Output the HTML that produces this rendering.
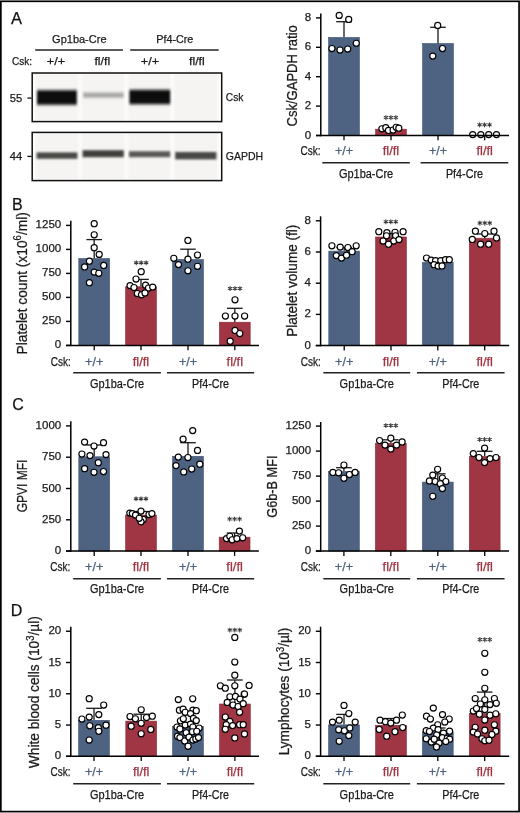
<!DOCTYPE html>
<html><head><meta charset="utf-8"><title>Figure</title><style>html,body{margin:0;padding:0;background:#fff;}svg{display:block;will-change:transform;}text{font-family:"Liberation Sans", sans-serif;stroke:currentColor;stroke-width:0.25px;}</style></head><body>
<svg width="520" height="813" viewBox="0 0 520 813" font-family='"Liberation Sans", sans-serif'>
<defs><filter id="bl" x="-10%" y="-60%" width="120%" height="220%"><feGaussianBlur stdDeviation="1.1 1.5"/></filter><filter id="bl2" x="-10%" y="-60%" width="120%" height="220%"><feGaussianBlur stdDeviation="1.0 1.2"/></filter><filter id="bl3" x="-10%" y="-10%" width="120%" height="120%"><feGaussianBlur stdDeviation="1.0 0.01"/></filter></defs>
<rect x="0" y="0" width="520" height="813" fill="#fff"/>
<rect x="0.85" y="1.3" width="518.2" height="810.3" fill="none" stroke="#000" stroke-width="1.7"/>
<text x="11.00" y="23.70" font-size="16.5" text-anchor="start" fill="#111" color="#111">A</text>
<text x="12.00" y="209.60" font-size="16" text-anchor="start" fill="#111" color="#111">B</text>
<text x="12.30" y="410.40" font-size="16" text-anchor="start" fill="#111" color="#111">C</text>
<text x="10.80" y="615.60" font-size="16" text-anchor="start" fill="#111" color="#111">D</text>
<text x="79.30" y="42.70" font-size="11.5" text-anchor="middle" fill="#1a1a1a" color="#1a1a1a" textLength="54.4" lengthAdjust="spacingAndGlyphs">Gp1ba-Cre</text>
<text x="174.80" y="42.70" font-size="11.5" text-anchor="middle" fill="#1a1a1a" color="#1a1a1a" textLength="37.1" lengthAdjust="spacingAndGlyphs">Pf4-Cre</text>
<line x1="35.20" y1="50.00" x2="122.90" y2="50.00" stroke="#222" stroke-width="1.4"/>
<line x1="130.20" y1="50.00" x2="218.70" y2="50.00" stroke="#222" stroke-width="1.4"/>
<text x="12.00" y="64.70" font-size="11.5" text-anchor="start" fill="#1a1a1a" color="#1a1a1a" textLength="20" lengthAdjust="spacingAndGlyphs">Csk:</text>
<text x="55.90" y="64.70" font-size="11.5" text-anchor="middle" fill="#1a1a1a" color="#1a1a1a" textLength="18.3" lengthAdjust="spacingAndGlyphs">+/+</text>
<text x="150.00" y="64.70" font-size="11.5" text-anchor="middle" fill="#1a1a1a" color="#1a1a1a" textLength="18.3" lengthAdjust="spacingAndGlyphs">+/+</text>
<text x="102.30" y="64.70" font-size="11.5" text-anchor="middle" fill="#1a1a1a" color="#1a1a1a" textLength="15.8" lengthAdjust="spacingAndGlyphs">fl/fl</text>
<text x="196.90" y="64.70" font-size="11.5" text-anchor="middle" fill="#1a1a1a" color="#1a1a1a" textLength="15.8" lengthAdjust="spacingAndGlyphs">fl/fl</text>
<rect x="32.2" y="73.0" width="189.5" height="48.599999999999994" fill="#fcfcfb"/>
<rect x="35.6" y="73.0" width="42.80" height="48.599999999999994" fill="#f5f4f3" filter="url(#bl3)"/>
<rect x="81.6" y="73.0" width="42.80" height="48.599999999999994" fill="#f5f4f3" filter="url(#bl3)"/>
<rect x="128.0" y="73.0" width="42.60" height="48.599999999999994" fill="#f5f4f3" filter="url(#bl3)"/>
<rect x="174.2" y="73.0" width="43.20" height="48.599999999999994" fill="#f5f4f3" filter="url(#bl3)"/>
<rect x="37.0" y="90.2" width="39.80" height="14.60" fill="#0c0c0c" filter="url(#bl)"/>
<rect x="83.2" y="92.6" width="40.40" height="5.00" fill="#a4a4a4" filter="url(#bl)"/>
<rect x="129.4" y="89.8" width="40.80" height="14.40" fill="#0c0c0c" filter="url(#bl)"/>
<rect x="32.2" y="73.0" width="189.50" height="48.60" fill="none" stroke="#111" stroke-width="1.5"/>
<rect x="32.2" y="132.4" width="189.5" height="48.19999999999999" fill="#fcfcfb"/>
<rect x="35.6" y="132.4" width="42.80" height="48.19999999999999" fill="#f5f4f3" filter="url(#bl3)"/>
<rect x="81.6" y="132.4" width="42.80" height="48.19999999999999" fill="#f5f4f3" filter="url(#bl3)"/>
<rect x="128.0" y="132.4" width="42.60" height="48.19999999999999" fill="#f5f4f3" filter="url(#bl3)"/>
<rect x="174.2" y="132.4" width="43.20" height="48.19999999999999" fill="#f5f4f3" filter="url(#bl3)"/>
<rect x="36.6" y="152.4" width="40.80" height="6.40" fill="#4a4946" filter="url(#bl2)"/>
<rect x="82.6" y="150.2" width="41.20" height="7.00" fill="#42413e" filter="url(#bl2)"/>
<rect x="129.0" y="151.2" width="41.20" height="6.00" fill="#5a5956" filter="url(#bl2)"/>
<rect x="175.2" y="152.0" width="41.20" height="7.40" fill="#4a4946" filter="url(#bl2)"/>
<rect x="32.2" y="132.4" width="189.50" height="48.20" fill="none" stroke="#111" stroke-width="1.5"/>
<text x="22.20" y="101.50" font-size="11.2" text-anchor="end" fill="#1a1a1a" color="#1a1a1a">55</text>
<line x1="27.40" y1="98.10" x2="31.50" y2="98.10" stroke="#111" stroke-width="1.3"/>
<text x="22.20" y="159.80" font-size="11.2" text-anchor="end" fill="#1a1a1a" color="#1a1a1a">44</text>
<line x1="27.40" y1="156.40" x2="31.50" y2="156.40" stroke="#111" stroke-width="1.3"/>
<text x="225.80" y="101.40" font-size="11.5" text-anchor="start" fill="#1a1a1a" color="#1a1a1a" textLength="17.6" lengthAdjust="spacingAndGlyphs">Csk</text>
<text x="225.80" y="160.00" font-size="11.5" text-anchor="start" fill="#1a1a1a" color="#1a1a1a" textLength="37.3" lengthAdjust="spacingAndGlyphs">GAPDH</text>
<rect x="328.60" y="37.40" width="30.80" height="98.10" fill="#4e6382" stroke="#3c5073" stroke-width="0.6"/>
<rect x="375.60" y="129.20" width="30.80" height="6.30" fill="#a03543" stroke="#8a2634" stroke-width="0.6"/>
<rect x="422.60" y="43.50" width="30.80" height="92.00" fill="#4e6382" stroke="#3c5073" stroke-width="0.6"/>
<line x1="344.00" y1="37.10" x2="344.00" y2="21.70" stroke="#1a1a1a" stroke-width="1.3"/>
<line x1="336.20" y1="21.70" x2="351.80" y2="21.70" stroke="#1a1a1a" stroke-width="1.3"/>
<line x1="438.00" y1="43.20" x2="438.00" y2="27.30" stroke="#1a1a1a" stroke-width="1.3"/>
<line x1="430.20" y1="27.30" x2="445.80" y2="27.30" stroke="#1a1a1a" stroke-width="1.3"/>
<circle cx="339.20" cy="15.40" r="3.05" fill="#fff" stroke="#000" stroke-width="1.15"/>
<circle cx="348.70" cy="19.40" r="3.05" fill="#fff" stroke="#000" stroke-width="1.15"/>
<circle cx="331.90" cy="48.50" r="3.05" fill="#fff" stroke="#000" stroke-width="1.15"/>
<circle cx="340.00" cy="50.00" r="3.05" fill="#fff" stroke="#000" stroke-width="1.15"/>
<circle cx="347.70" cy="49.00" r="3.05" fill="#fff" stroke="#000" stroke-width="1.15"/>
<circle cx="356.30" cy="43.30" r="3.05" fill="#fff" stroke="#000" stroke-width="1.15"/>
<circle cx="381.90" cy="128.80" r="3.05" fill="#fff" stroke="#000" stroke-width="1.15"/>
<circle cx="385.80" cy="127.70" r="3.05" fill="#fff" stroke="#000" stroke-width="1.15"/>
<circle cx="388.50" cy="130.40" r="3.05" fill="#fff" stroke="#000" stroke-width="1.15"/>
<circle cx="393.10" cy="130.00" r="3.05" fill="#fff" stroke="#000" stroke-width="1.15"/>
<circle cx="396.20" cy="127.30" r="3.05" fill="#fff" stroke="#000" stroke-width="1.15"/>
<circle cx="398.80" cy="128.20" r="3.05" fill="#fff" stroke="#000" stroke-width="1.15"/>
<circle cx="437.70" cy="25.40" r="3.05" fill="#fff" stroke="#000" stroke-width="1.15"/>
<circle cx="442.50" cy="48.50" r="3.05" fill="#fff" stroke="#000" stroke-width="1.15"/>
<circle cx="432.80" cy="56.10" r="3.05" fill="#fff" stroke="#000" stroke-width="1.15"/>
<circle cx="472.70" cy="134.60" r="3.05" fill="#fff" stroke="#000" stroke-width="1.15"/>
<circle cx="480.80" cy="134.60" r="3.05" fill="#fff" stroke="#000" stroke-width="1.15"/>
<circle cx="488.70" cy="134.60" r="3.05" fill="#fff" stroke="#000" stroke-width="1.15"/>
<circle cx="496.50" cy="134.60" r="3.05" fill="#fff" stroke="#000" stroke-width="1.15"/>
<line x1="320.80" y1="13.50" x2="320.80" y2="136.20" stroke="#000" stroke-width="1.5"/>
<line x1="316.00" y1="135.50" x2="509.00" y2="135.50" stroke="#000" stroke-width="1.5"/>
<line x1="316.00" y1="135.50" x2="320.80" y2="135.50" stroke="#000" stroke-width="1.4"/>
<text x="311.20" y="138.50" font-size="11.5" text-anchor="end" fill="#1a1a1a" color="#1a1a1a">0</text>
<line x1="316.00" y1="106.10" x2="320.80" y2="106.10" stroke="#000" stroke-width="1.4"/>
<text x="311.20" y="109.10" font-size="11.5" text-anchor="end" fill="#1a1a1a" color="#1a1a1a">2</text>
<line x1="316.00" y1="76.70" x2="320.80" y2="76.70" stroke="#000" stroke-width="1.4"/>
<text x="311.20" y="79.70" font-size="11.5" text-anchor="end" fill="#1a1a1a" color="#1a1a1a">4</text>
<line x1="316.00" y1="47.30" x2="320.80" y2="47.30" stroke="#000" stroke-width="1.4"/>
<text x="311.20" y="50.30" font-size="11.5" text-anchor="end" fill="#1a1a1a" color="#1a1a1a">6</text>
<line x1="316.00" y1="17.90" x2="320.80" y2="17.90" stroke="#000" stroke-width="1.4"/>
<text x="311.20" y="20.90" font-size="11.5" text-anchor="end" fill="#1a1a1a" color="#1a1a1a">8</text>
<line x1="344.00" y1="135.50" x2="344.00" y2="140.30" stroke="#000" stroke-width="1.3"/>
<line x1="391.00" y1="135.50" x2="391.00" y2="140.30" stroke="#000" stroke-width="1.3"/>
<line x1="438.00" y1="135.50" x2="438.00" y2="140.30" stroke="#000" stroke-width="1.3"/>
<line x1="484.70" y1="135.50" x2="484.70" y2="140.30" stroke="#000" stroke-width="1.3"/>
<path d="M385.95 115.55L385.95 119.65M384.17 116.57L387.73 118.62M387.73 116.57L384.17 118.62M390.90 115.55L390.90 119.65M389.12 116.57L392.68 118.62M392.68 116.57L389.12 118.62M395.85 115.55L395.85 119.65M394.07 116.57L397.63 118.62M397.63 116.57L394.07 118.62" stroke="#3a3a3a" stroke-width="1.05" stroke-linecap="round" fill="none"/>
<path d="M479.65 122.75L479.65 126.85M477.87 123.77L481.43 125.83M481.43 123.77L477.87 125.83M484.60 122.75L484.60 126.85M482.82 123.77L486.38 125.83M486.38 123.77L482.82 125.83M489.55 122.75L489.55 126.85M487.77 123.77L491.33 125.83M491.33 123.77L487.77 125.83" stroke="#3a3a3a" stroke-width="1.05" stroke-linecap="round" fill="none"/>
<text x="300.50" y="155.00" font-size="12" text-anchor="start" fill="#1a1a1a" color="#1a1a1a" textLength="20" lengthAdjust="spacingAndGlyphs">Csk:</text>
<text x="344.00" y="155.00" font-size="12" text-anchor="middle" fill="#4e6382" color="#4e6382" textLength="18.2" lengthAdjust="spacingAndGlyphs">+/+</text>
<text x="391.00" y="155.00" font-size="12" text-anchor="middle" fill="#a03543" color="#a03543" textLength="16.5" lengthAdjust="spacingAndGlyphs">fl/fl</text>
<text x="438.00" y="155.00" font-size="12" text-anchor="middle" fill="#4e6382" color="#4e6382" textLength="18.2" lengthAdjust="spacingAndGlyphs">+/+</text>
<text x="484.70" y="155.00" font-size="12" text-anchor="middle" fill="#a03543" color="#a03543" textLength="16.5" lengthAdjust="spacingAndGlyphs">fl/fl</text>
<line x1="322.30" y1="162.70" x2="409.80" y2="162.70" stroke="#222" stroke-width="1.4"/>
<text x="366.05" y="177.70" font-size="12" text-anchor="middle" fill="#1a1a1a" color="#1a1a1a" textLength="54.3" lengthAdjust="spacingAndGlyphs">Gp1ba-Cre</text>
<line x1="420.60" y1="162.70" x2="508.30" y2="162.70" stroke="#222" stroke-width="1.4"/>
<text x="464.45" y="177.70" font-size="12" text-anchor="middle" fill="#1a1a1a" color="#1a1a1a" textLength="37" lengthAdjust="spacingAndGlyphs">Pf4-Cre</text>
<text transform="translate(296.60,75.80) rotate(-90)" font-size="14.5" text-anchor="middle" fill="#1a1a1a" color="#1a1a1a" textLength="101.3" lengthAdjust="spacingAndGlyphs">Csk/GAPDH ratio</text>
<rect x="78.80" y="258.50" width="30.80" height="86.90" fill="#4e6382" stroke="#3c5073" stroke-width="0.6"/>
<rect x="125.60" y="286.80" width="30.80" height="58.60" fill="#a03543" stroke="#8a2634" stroke-width="0.6"/>
<rect x="172.60" y="259.50" width="30.80" height="85.90" fill="#4e6382" stroke="#3c5073" stroke-width="0.6"/>
<rect x="219.40" y="322.20" width="30.80" height="23.20" fill="#a03543" stroke="#8a2634" stroke-width="0.6"/>
<line x1="94.20" y1="258.20" x2="94.20" y2="239.60" stroke="#1a1a1a" stroke-width="1.3"/>
<line x1="86.40" y1="239.60" x2="102.00" y2="239.60" stroke="#1a1a1a" stroke-width="1.3"/>
<line x1="141.00" y1="286.50" x2="141.00" y2="279.40" stroke="#1a1a1a" stroke-width="1.3"/>
<line x1="133.20" y1="279.40" x2="148.80" y2="279.40" stroke="#1a1a1a" stroke-width="1.3"/>
<line x1="188.00" y1="259.20" x2="188.00" y2="249.20" stroke="#1a1a1a" stroke-width="1.3"/>
<line x1="180.20" y1="249.20" x2="195.80" y2="249.20" stroke="#1a1a1a" stroke-width="1.3"/>
<line x1="234.80" y1="321.90" x2="234.80" y2="308.30" stroke="#1a1a1a" stroke-width="1.3"/>
<line x1="227.00" y1="308.30" x2="242.60" y2="308.30" stroke="#1a1a1a" stroke-width="1.3"/>
<circle cx="94.20" cy="223.70" r="3.05" fill="#fff" stroke="#000" stroke-width="1.15"/>
<circle cx="94.20" cy="234.80" r="3.05" fill="#fff" stroke="#000" stroke-width="1.15"/>
<circle cx="94.20" cy="247.70" r="3.05" fill="#fff" stroke="#000" stroke-width="1.15"/>
<circle cx="99.20" cy="254.40" r="3.05" fill="#fff" stroke="#000" stroke-width="1.15"/>
<circle cx="89.40" cy="261.20" r="3.05" fill="#fff" stroke="#000" stroke-width="1.15"/>
<circle cx="84.60" cy="266.90" r="3.05" fill="#fff" stroke="#000" stroke-width="1.15"/>
<circle cx="103.70" cy="265.40" r="3.05" fill="#fff" stroke="#000" stroke-width="1.15"/>
<circle cx="94.20" cy="272.10" r="3.05" fill="#fff" stroke="#000" stroke-width="1.15"/>
<circle cx="98.80" cy="273.30" r="3.05" fill="#fff" stroke="#000" stroke-width="1.15"/>
<circle cx="89.40" cy="282.70" r="3.05" fill="#fff" stroke="#000" stroke-width="1.15"/>
<circle cx="141.20" cy="271.70" r="3.05" fill="#fff" stroke="#000" stroke-width="1.15"/>
<circle cx="136.00" cy="279.00" r="3.05" fill="#fff" stroke="#000" stroke-width="1.15"/>
<circle cx="130.00" cy="285.60" r="3.05" fill="#fff" stroke="#000" stroke-width="1.15"/>
<circle cx="134.00" cy="287.50" r="3.05" fill="#fff" stroke="#000" stroke-width="1.15"/>
<circle cx="145.60" cy="285.20" r="3.05" fill="#fff" stroke="#000" stroke-width="1.15"/>
<circle cx="148.50" cy="288.00" r="3.05" fill="#fff" stroke="#000" stroke-width="1.15"/>
<circle cx="152.70" cy="287.10" r="3.05" fill="#fff" stroke="#000" stroke-width="1.15"/>
<circle cx="137.30" cy="293.50" r="3.05" fill="#fff" stroke="#000" stroke-width="1.15"/>
<circle cx="141.50" cy="294.80" r="3.05" fill="#fff" stroke="#000" stroke-width="1.15"/>
<circle cx="145.00" cy="292.90" r="3.05" fill="#fff" stroke="#000" stroke-width="1.15"/>
<circle cx="187.90" cy="240.40" r="3.05" fill="#fff" stroke="#000" stroke-width="1.15"/>
<circle cx="173.80" cy="258.30" r="3.05" fill="#fff" stroke="#000" stroke-width="1.15"/>
<circle cx="187.90" cy="259.20" r="3.05" fill="#fff" stroke="#000" stroke-width="1.15"/>
<circle cx="197.50" cy="255.00" r="3.05" fill="#fff" stroke="#000" stroke-width="1.15"/>
<circle cx="178.50" cy="264.60" r="3.05" fill="#fff" stroke="#000" stroke-width="1.15"/>
<circle cx="197.50" cy="266.30" r="3.05" fill="#fff" stroke="#000" stroke-width="1.15"/>
<circle cx="187.90" cy="270.80" r="3.05" fill="#fff" stroke="#000" stroke-width="1.15"/>
<circle cx="235.00" cy="299.80" r="3.05" fill="#fff" stroke="#000" stroke-width="1.15"/>
<circle cx="225.40" cy="316.00" r="3.05" fill="#fff" stroke="#000" stroke-width="1.15"/>
<circle cx="235.00" cy="316.00" r="3.05" fill="#fff" stroke="#000" stroke-width="1.15"/>
<circle cx="244.60" cy="316.00" r="3.05" fill="#fff" stroke="#000" stroke-width="1.15"/>
<circle cx="235.00" cy="330.40" r="3.05" fill="#fff" stroke="#000" stroke-width="1.15"/>
<circle cx="239.80" cy="333.50" r="3.05" fill="#fff" stroke="#000" stroke-width="1.15"/>
<circle cx="230.20" cy="341.20" r="3.05" fill="#fff" stroke="#000" stroke-width="1.15"/>
<line x1="70.80" y1="220.80" x2="70.80" y2="346.10" stroke="#000" stroke-width="1.5"/>
<line x1="66.00" y1="345.40" x2="259.00" y2="345.40" stroke="#000" stroke-width="1.5"/>
<line x1="66.00" y1="345.40" x2="70.80" y2="345.40" stroke="#000" stroke-width="1.4"/>
<text x="61.20" y="348.40" font-size="11.5" text-anchor="end" fill="#1a1a1a" color="#1a1a1a">0</text>
<line x1="66.00" y1="321.40" x2="70.80" y2="321.40" stroke="#000" stroke-width="1.4"/>
<text x="61.20" y="324.40" font-size="11.5" text-anchor="end" fill="#1a1a1a" color="#1a1a1a">250</text>
<line x1="66.00" y1="297.40" x2="70.80" y2="297.40" stroke="#000" stroke-width="1.4"/>
<text x="61.20" y="300.40" font-size="11.5" text-anchor="end" fill="#1a1a1a" color="#1a1a1a">500</text>
<line x1="66.00" y1="273.40" x2="70.80" y2="273.40" stroke="#000" stroke-width="1.4"/>
<text x="61.20" y="276.40" font-size="11.5" text-anchor="end" fill="#1a1a1a" color="#1a1a1a">750</text>
<line x1="66.00" y1="249.40" x2="70.80" y2="249.40" stroke="#000" stroke-width="1.4"/>
<text x="61.20" y="252.40" font-size="11.5" text-anchor="end" fill="#1a1a1a" color="#1a1a1a">1000</text>
<line x1="66.00" y1="225.40" x2="70.80" y2="225.40" stroke="#000" stroke-width="1.4"/>
<text x="61.20" y="228.40" font-size="11.5" text-anchor="end" fill="#1a1a1a" color="#1a1a1a">1250</text>
<line x1="94.20" y1="345.40" x2="94.20" y2="350.20" stroke="#000" stroke-width="1.3"/>
<line x1="141.00" y1="345.40" x2="141.00" y2="350.20" stroke="#000" stroke-width="1.3"/>
<line x1="188.00" y1="345.40" x2="188.00" y2="350.20" stroke="#000" stroke-width="1.3"/>
<line x1="234.80" y1="345.40" x2="234.80" y2="350.20" stroke="#000" stroke-width="1.3"/>
<path d="M136.25 260.65L136.25 264.75M134.47 261.68L138.03 263.72M138.03 261.68L134.47 263.72M141.20 260.65L141.20 264.75M139.42 261.68L142.98 263.72M142.98 261.68L139.42 263.72M146.15 260.65L146.15 264.75M144.37 261.68L147.93 263.72M147.93 261.68L144.37 263.72" stroke="#3a3a3a" stroke-width="1.05" stroke-linecap="round" fill="none"/>
<path d="M230.05 286.45L230.05 290.55M228.27 287.48L231.83 289.52M231.83 287.48L228.27 289.52M235.00 286.45L235.00 290.55M233.22 287.48L236.78 289.52M236.78 287.48L233.22 289.52M239.95 286.45L239.95 290.55M238.17 287.48L241.73 289.52M241.73 287.48L238.17 289.52" stroke="#3a3a3a" stroke-width="1.05" stroke-linecap="round" fill="none"/>
<text x="50.80" y="365.60" font-size="12" text-anchor="start" fill="#1a1a1a" color="#1a1a1a" textLength="20" lengthAdjust="spacingAndGlyphs">Csk:</text>
<text x="94.20" y="365.60" font-size="12" text-anchor="middle" fill="#4e6382" color="#4e6382" textLength="18.2" lengthAdjust="spacingAndGlyphs">+/+</text>
<text x="141.00" y="365.60" font-size="12" text-anchor="middle" fill="#a03543" color="#a03543" textLength="16.5" lengthAdjust="spacingAndGlyphs">fl/fl</text>
<text x="188.00" y="365.60" font-size="12" text-anchor="middle" fill="#4e6382" color="#4e6382" textLength="18.2" lengthAdjust="spacingAndGlyphs">+/+</text>
<text x="234.80" y="365.60" font-size="12" text-anchor="middle" fill="#a03543" color="#a03543" textLength="16.5" lengthAdjust="spacingAndGlyphs">fl/fl</text>
<line x1="73.20" y1="372.70" x2="160.90" y2="372.70" stroke="#222" stroke-width="1.4"/>
<text x="117.05" y="387.60" font-size="12" text-anchor="middle" fill="#1a1a1a" color="#1a1a1a" textLength="54.3" lengthAdjust="spacingAndGlyphs">Gp1ba-Cre</text>
<line x1="166.90" y1="372.70" x2="254.20" y2="372.70" stroke="#222" stroke-width="1.4"/>
<text x="210.55" y="387.60" font-size="12" text-anchor="middle" fill="#1a1a1a" color="#1a1a1a" textLength="37" lengthAdjust="spacingAndGlyphs">Pf4-Cre</text>
<text transform="translate(26.50,283.30) rotate(-90)" font-size="14.5" text-anchor="middle" fill="#1a1a1a" color="#1a1a1a" textLength="142.3" lengthAdjust="spacingAndGlyphs">Platelet count (x10<tspan font-size="10" dy="-5.5">6</tspan><tspan dy="5.5">/ml)</tspan></text>
<rect x="328.80" y="251.10" width="30.80" height="94.50" fill="#4e6382" stroke="#3c5073" stroke-width="0.6"/>
<rect x="375.60" y="237.00" width="30.80" height="108.60" fill="#a03543" stroke="#8a2634" stroke-width="0.6"/>
<rect x="422.40" y="262.40" width="30.80" height="83.20" fill="#4e6382" stroke="#3c5073" stroke-width="0.6"/>
<rect x="469.30" y="238.20" width="30.80" height="107.40" fill="#a03543" stroke="#8a2634" stroke-width="0.6"/>
<line x1="344.20" y1="250.80" x2="344.20" y2="247.50" stroke="#1a1a1a" stroke-width="1.3"/>
<line x1="336.40" y1="247.50" x2="352.00" y2="247.50" stroke="#1a1a1a" stroke-width="1.3"/>
<line x1="391.00" y1="236.70" x2="391.00" y2="233.50" stroke="#1a1a1a" stroke-width="1.3"/>
<line x1="383.20" y1="233.50" x2="398.80" y2="233.50" stroke="#1a1a1a" stroke-width="1.3"/>
<line x1="437.80" y1="262.10" x2="437.80" y2="259.50" stroke="#1a1a1a" stroke-width="1.3"/>
<line x1="430.00" y1="259.50" x2="445.60" y2="259.50" stroke="#1a1a1a" stroke-width="1.3"/>
<line x1="484.70" y1="237.90" x2="484.70" y2="234.00" stroke="#1a1a1a" stroke-width="1.3"/>
<line x1="476.90" y1="234.00" x2="492.50" y2="234.00" stroke="#1a1a1a" stroke-width="1.3"/>
<circle cx="331.90" cy="245.80" r="3.05" fill="#fff" stroke="#000" stroke-width="1.15"/>
<circle cx="340.20" cy="247.10" r="3.05" fill="#fff" stroke="#000" stroke-width="1.15"/>
<circle cx="347.90" cy="247.50" r="3.05" fill="#fff" stroke="#000" stroke-width="1.15"/>
<circle cx="356.20" cy="245.80" r="3.05" fill="#fff" stroke="#000" stroke-width="1.15"/>
<circle cx="336.30" cy="255.60" r="3.05" fill="#fff" stroke="#000" stroke-width="1.15"/>
<circle cx="341.50" cy="258.10" r="3.05" fill="#fff" stroke="#000" stroke-width="1.15"/>
<circle cx="346.50" cy="255.20" r="3.05" fill="#fff" stroke="#000" stroke-width="1.15"/>
<circle cx="352.10" cy="251.70" r="3.05" fill="#fff" stroke="#000" stroke-width="1.15"/>
<circle cx="378.80" cy="231.70" r="3.05" fill="#fff" stroke="#000" stroke-width="1.15"/>
<circle cx="386.90" cy="232.70" r="3.05" fill="#fff" stroke="#000" stroke-width="1.15"/>
<circle cx="395.00" cy="232.30" r="3.05" fill="#fff" stroke="#000" stroke-width="1.15"/>
<circle cx="403.10" cy="231.70" r="3.05" fill="#fff" stroke="#000" stroke-width="1.15"/>
<circle cx="386.50" cy="235.80" r="3.05" fill="#fff" stroke="#000" stroke-width="1.15"/>
<circle cx="395.60" cy="235.80" r="3.05" fill="#fff" stroke="#000" stroke-width="1.15"/>
<circle cx="383.10" cy="241.00" r="3.05" fill="#fff" stroke="#000" stroke-width="1.15"/>
<circle cx="393.70" cy="241.00" r="3.05" fill="#fff" stroke="#000" stroke-width="1.15"/>
<circle cx="399.00" cy="239.60" r="3.05" fill="#fff" stroke="#000" stroke-width="1.15"/>
<circle cx="388.50" cy="244.20" r="3.05" fill="#fff" stroke="#000" stroke-width="1.15"/>
<circle cx="426.50" cy="258.00" r="3.05" fill="#fff" stroke="#000" stroke-width="1.15"/>
<circle cx="431.20" cy="260.10" r="3.05" fill="#fff" stroke="#000" stroke-width="1.15"/>
<circle cx="435.60" cy="260.60" r="3.05" fill="#fff" stroke="#000" stroke-width="1.15"/>
<circle cx="440.80" cy="260.60" r="3.05" fill="#fff" stroke="#000" stroke-width="1.15"/>
<circle cx="445.50" cy="259.70" r="3.05" fill="#fff" stroke="#000" stroke-width="1.15"/>
<circle cx="449.30" cy="259.70" r="3.05" fill="#fff" stroke="#000" stroke-width="1.15"/>
<circle cx="434.00" cy="264.70" r="3.05" fill="#fff" stroke="#000" stroke-width="1.15"/>
<circle cx="438.10" cy="266.10" r="3.05" fill="#fff" stroke="#000" stroke-width="1.15"/>
<circle cx="442.00" cy="265.90" r="3.05" fill="#fff" stroke="#000" stroke-width="1.15"/>
<circle cx="475.40" cy="231.20" r="3.05" fill="#fff" stroke="#000" stroke-width="1.15"/>
<circle cx="484.80" cy="233.50" r="3.05" fill="#fff" stroke="#000" stroke-width="1.15"/>
<circle cx="494.00" cy="231.20" r="3.05" fill="#fff" stroke="#000" stroke-width="1.15"/>
<circle cx="472.30" cy="239.40" r="3.05" fill="#fff" stroke="#000" stroke-width="1.15"/>
<circle cx="496.50" cy="237.90" r="3.05" fill="#fff" stroke="#000" stroke-width="1.15"/>
<circle cx="480.60" cy="244.20" r="3.05" fill="#fff" stroke="#000" stroke-width="1.15"/>
<circle cx="488.70" cy="244.20" r="3.05" fill="#fff" stroke="#000" stroke-width="1.15"/>
<line x1="320.60" y1="216.30" x2="320.60" y2="346.30" stroke="#000" stroke-width="1.5"/>
<line x1="315.80" y1="345.60" x2="509.20" y2="345.60" stroke="#000" stroke-width="1.5"/>
<line x1="315.80" y1="345.60" x2="320.60" y2="345.60" stroke="#000" stroke-width="1.4"/>
<text x="311.00" y="348.60" font-size="11.5" text-anchor="end" fill="#1a1a1a" color="#1a1a1a">0</text>
<line x1="315.80" y1="314.40" x2="320.60" y2="314.40" stroke="#000" stroke-width="1.4"/>
<text x="311.00" y="317.40" font-size="11.5" text-anchor="end" fill="#1a1a1a" color="#1a1a1a">2</text>
<line x1="315.80" y1="283.20" x2="320.60" y2="283.20" stroke="#000" stroke-width="1.4"/>
<text x="311.00" y="286.20" font-size="11.5" text-anchor="end" fill="#1a1a1a" color="#1a1a1a">4</text>
<line x1="315.80" y1="252.00" x2="320.60" y2="252.00" stroke="#000" stroke-width="1.4"/>
<text x="311.00" y="255.00" font-size="11.5" text-anchor="end" fill="#1a1a1a" color="#1a1a1a">6</text>
<line x1="315.80" y1="220.80" x2="320.60" y2="220.80" stroke="#000" stroke-width="1.4"/>
<text x="311.00" y="223.80" font-size="11.5" text-anchor="end" fill="#1a1a1a" color="#1a1a1a">8</text>
<line x1="344.20" y1="345.60" x2="344.20" y2="350.40" stroke="#000" stroke-width="1.3"/>
<line x1="391.00" y1="345.60" x2="391.00" y2="350.40" stroke="#000" stroke-width="1.3"/>
<line x1="437.80" y1="345.60" x2="437.80" y2="350.40" stroke="#000" stroke-width="1.3"/>
<line x1="484.70" y1="345.60" x2="484.70" y2="350.40" stroke="#000" stroke-width="1.3"/>
<path d="M385.85 219.65L385.85 223.75M384.07 220.67L387.63 222.72M387.63 220.67L384.07 222.72M390.80 219.65L390.80 223.75M389.02 220.67L392.58 222.72M392.58 220.67L389.02 222.72M395.75 219.65L395.75 223.75M393.97 220.67L397.53 222.72M397.53 220.67L393.97 222.72" stroke="#3a3a3a" stroke-width="1.05" stroke-linecap="round" fill="none"/>
<path d="M479.85 221.05L479.85 225.15M478.07 222.07L481.63 224.12M481.63 222.07L478.07 224.12M484.80 221.05L484.80 225.15M483.02 222.07L486.58 224.12M486.58 222.07L483.02 224.12M489.75 221.05L489.75 225.15M487.97 222.07L491.53 224.12M491.53 222.07L487.97 224.12" stroke="#3a3a3a" stroke-width="1.05" stroke-linecap="round" fill="none"/>
<text x="300.70" y="366.00" font-size="12" text-anchor="start" fill="#1a1a1a" color="#1a1a1a" textLength="20" lengthAdjust="spacingAndGlyphs">Csk:</text>
<text x="344.20" y="366.00" font-size="12" text-anchor="middle" fill="#4e6382" color="#4e6382" textLength="18.2" lengthAdjust="spacingAndGlyphs">+/+</text>
<text x="391.00" y="366.00" font-size="12" text-anchor="middle" fill="#a03543" color="#a03543" textLength="16.5" lengthAdjust="spacingAndGlyphs">fl/fl</text>
<text x="437.80" y="366.00" font-size="12" text-anchor="middle" fill="#4e6382" color="#4e6382" textLength="18.2" lengthAdjust="spacingAndGlyphs">+/+</text>
<text x="484.70" y="366.00" font-size="12" text-anchor="middle" fill="#a03543" color="#a03543" textLength="16.5" lengthAdjust="spacingAndGlyphs">fl/fl</text>
<line x1="323.30" y1="372.80" x2="410.20" y2="372.80" stroke="#222" stroke-width="1.4"/>
<text x="366.75" y="387.80" font-size="12" text-anchor="middle" fill="#1a1a1a" color="#1a1a1a" textLength="54.3" lengthAdjust="spacingAndGlyphs">Gp1ba-Cre</text>
<line x1="416.90" y1="372.80" x2="504.60" y2="372.80" stroke="#222" stroke-width="1.4"/>
<text x="460.75" y="387.80" font-size="12" text-anchor="middle" fill="#1a1a1a" color="#1a1a1a" textLength="37" lengthAdjust="spacingAndGlyphs">Pf4-Cre</text>
<text transform="translate(296.60,280.80) rotate(-90)" font-size="14.5" text-anchor="middle" fill="#1a1a1a" color="#1a1a1a" textLength="112" lengthAdjust="spacingAndGlyphs">Platelet volume (fl)</text>
<rect x="78.80" y="456.80" width="30.80" height="94.30" fill="#4e6382" stroke="#3c5073" stroke-width="0.6"/>
<rect x="125.60" y="515.10" width="30.80" height="36.00" fill="#a03543" stroke="#8a2634" stroke-width="0.6"/>
<rect x="172.60" y="456.30" width="30.80" height="94.80" fill="#4e6382" stroke="#3c5073" stroke-width="0.6"/>
<rect x="219.20" y="537.20" width="30.80" height="13.90" fill="#a03543" stroke="#8a2634" stroke-width="0.6"/>
<line x1="94.20" y1="456.50" x2="94.20" y2="445.00" stroke="#1a1a1a" stroke-width="1.3"/>
<line x1="86.40" y1="445.00" x2="102.00" y2="445.00" stroke="#1a1a1a" stroke-width="1.3"/>
<line x1="141.00" y1="514.80" x2="141.00" y2="511.50" stroke="#1a1a1a" stroke-width="1.3"/>
<line x1="133.20" y1="511.50" x2="148.80" y2="511.50" stroke="#1a1a1a" stroke-width="1.3"/>
<line x1="188.00" y1="456.00" x2="188.00" y2="442.70" stroke="#1a1a1a" stroke-width="1.3"/>
<line x1="180.20" y1="442.70" x2="195.80" y2="442.70" stroke="#1a1a1a" stroke-width="1.3"/>
<line x1="234.60" y1="536.90" x2="234.60" y2="533.00" stroke="#1a1a1a" stroke-width="1.3"/>
<line x1="226.80" y1="533.00" x2="242.40" y2="533.00" stroke="#1a1a1a" stroke-width="1.3"/>
<circle cx="84.60" cy="442.10" r="3.05" fill="#fff" stroke="#000" stroke-width="1.15"/>
<circle cx="94.00" cy="446.00" r="3.05" fill="#fff" stroke="#000" stroke-width="1.15"/>
<circle cx="103.50" cy="442.70" r="3.05" fill="#fff" stroke="#000" stroke-width="1.15"/>
<circle cx="81.90" cy="454.00" r="3.05" fill="#fff" stroke="#000" stroke-width="1.15"/>
<circle cx="90.00" cy="455.60" r="3.05" fill="#fff" stroke="#000" stroke-width="1.15"/>
<circle cx="106.00" cy="454.60" r="3.05" fill="#fff" stroke="#000" stroke-width="1.15"/>
<circle cx="98.30" cy="462.70" r="3.05" fill="#fff" stroke="#000" stroke-width="1.15"/>
<circle cx="84.60" cy="468.70" r="3.05" fill="#fff" stroke="#000" stroke-width="1.15"/>
<circle cx="94.00" cy="472.30" r="3.05" fill="#fff" stroke="#000" stroke-width="1.15"/>
<circle cx="103.50" cy="471.50" r="3.05" fill="#fff" stroke="#000" stroke-width="1.15"/>
<circle cx="129.80" cy="513.10" r="3.05" fill="#fff" stroke="#000" stroke-width="1.15"/>
<circle cx="132.30" cy="513.60" r="3.05" fill="#fff" stroke="#000" stroke-width="1.15"/>
<circle cx="135.50" cy="515.10" r="3.05" fill="#fff" stroke="#000" stroke-width="1.15"/>
<circle cx="141.00" cy="511.10" r="3.05" fill="#fff" stroke="#000" stroke-width="1.15"/>
<circle cx="149.00" cy="514.50" r="3.05" fill="#fff" stroke="#000" stroke-width="1.15"/>
<circle cx="151.90" cy="513.60" r="3.05" fill="#fff" stroke="#000" stroke-width="1.15"/>
<circle cx="143.30" cy="519.40" r="3.05" fill="#fff" stroke="#000" stroke-width="1.15"/>
<circle cx="141.00" cy="521.70" r="3.05" fill="#fff" stroke="#000" stroke-width="1.15"/>
<circle cx="139.20" cy="518.30" r="3.05" fill="#fff" stroke="#000" stroke-width="1.15"/>
<circle cx="192.70" cy="430.60" r="3.05" fill="#fff" stroke="#000" stroke-width="1.15"/>
<circle cx="183.10" cy="439.20" r="3.05" fill="#fff" stroke="#000" stroke-width="1.15"/>
<circle cx="197.50" cy="450.40" r="3.05" fill="#fff" stroke="#000" stroke-width="1.15"/>
<circle cx="178.30" cy="457.10" r="3.05" fill="#fff" stroke="#000" stroke-width="1.15"/>
<circle cx="187.90" cy="457.50" r="3.05" fill="#fff" stroke="#000" stroke-width="1.15"/>
<circle cx="176.00" cy="465.60" r="3.05" fill="#fff" stroke="#000" stroke-width="1.15"/>
<circle cx="199.80" cy="464.20" r="3.05" fill="#fff" stroke="#000" stroke-width="1.15"/>
<circle cx="183.70" cy="471.90" r="3.05" fill="#fff" stroke="#000" stroke-width="1.15"/>
<circle cx="191.70" cy="469.00" r="3.05" fill="#fff" stroke="#000" stroke-width="1.15"/>
<circle cx="226.50" cy="538.60" r="3.05" fill="#fff" stroke="#000" stroke-width="1.15"/>
<circle cx="229.80" cy="536.30" r="3.05" fill="#fff" stroke="#000" stroke-width="1.15"/>
<circle cx="232.10" cy="539.80" r="3.05" fill="#fff" stroke="#000" stroke-width="1.15"/>
<circle cx="236.90" cy="538.60" r="3.05" fill="#fff" stroke="#000" stroke-width="1.15"/>
<circle cx="242.70" cy="537.80" r="3.05" fill="#fff" stroke="#000" stroke-width="1.15"/>
<circle cx="239.40" cy="531.10" r="3.05" fill="#fff" stroke="#000" stroke-width="1.15"/>
<line x1="70.80" y1="421.30" x2="70.80" y2="551.80" stroke="#000" stroke-width="1.5"/>
<line x1="66.00" y1="551.10" x2="258.80" y2="551.10" stroke="#000" stroke-width="1.5"/>
<line x1="66.00" y1="551.10" x2="70.80" y2="551.10" stroke="#000" stroke-width="1.4"/>
<text x="61.20" y="554.10" font-size="11.5" text-anchor="end" fill="#1a1a1a" color="#1a1a1a">0</text>
<line x1="66.00" y1="519.80" x2="70.80" y2="519.80" stroke="#000" stroke-width="1.4"/>
<text x="61.20" y="522.80" font-size="11.5" text-anchor="end" fill="#1a1a1a" color="#1a1a1a">250</text>
<line x1="66.00" y1="488.50" x2="70.80" y2="488.50" stroke="#000" stroke-width="1.4"/>
<text x="61.20" y="491.50" font-size="11.5" text-anchor="end" fill="#1a1a1a" color="#1a1a1a">500</text>
<line x1="66.00" y1="457.20" x2="70.80" y2="457.20" stroke="#000" stroke-width="1.4"/>
<text x="61.20" y="460.20" font-size="11.5" text-anchor="end" fill="#1a1a1a" color="#1a1a1a">750</text>
<line x1="66.00" y1="425.90" x2="70.80" y2="425.90" stroke="#000" stroke-width="1.4"/>
<text x="61.20" y="428.90" font-size="11.5" text-anchor="end" fill="#1a1a1a" color="#1a1a1a">1000</text>
<line x1="94.20" y1="551.10" x2="94.20" y2="555.90" stroke="#000" stroke-width="1.3"/>
<line x1="141.00" y1="551.10" x2="141.00" y2="555.90" stroke="#000" stroke-width="1.3"/>
<line x1="188.00" y1="551.10" x2="188.00" y2="555.90" stroke="#000" stroke-width="1.3"/>
<line x1="234.60" y1="551.10" x2="234.60" y2="555.90" stroke="#000" stroke-width="1.3"/>
<path d="M136.05 496.65L136.05 500.75M134.27 497.68L137.83 499.72M137.83 497.68L134.27 499.72M141.00 496.65L141.00 500.75M139.22 497.68L142.78 499.72M142.78 497.68L139.22 499.72M145.95 496.65L145.95 500.75M144.17 497.68L147.73 499.72M147.73 497.68L144.17 499.72" stroke="#3a3a3a" stroke-width="1.05" stroke-linecap="round" fill="none"/>
<path d="M229.65 516.95L229.65 521.05M227.87 517.98L231.43 520.02M231.43 517.98L227.87 520.02M234.60 516.95L234.60 521.05M232.82 517.98L236.38 520.02M236.38 517.98L232.82 520.02M239.55 516.95L239.55 521.05M237.77 517.98L241.33 520.02M241.33 517.98L237.77 520.02" stroke="#3a3a3a" stroke-width="1.05" stroke-linecap="round" fill="none"/>
<text x="50.30" y="570.80" font-size="12" text-anchor="start" fill="#1a1a1a" color="#1a1a1a" textLength="20" lengthAdjust="spacingAndGlyphs">Csk:</text>
<text x="94.20" y="570.80" font-size="12" text-anchor="middle" fill="#4e6382" color="#4e6382" textLength="18.2" lengthAdjust="spacingAndGlyphs">+/+</text>
<text x="141.00" y="570.80" font-size="12" text-anchor="middle" fill="#a03543" color="#a03543" textLength="16.5" lengthAdjust="spacingAndGlyphs">fl/fl</text>
<text x="188.00" y="570.80" font-size="12" text-anchor="middle" fill="#4e6382" color="#4e6382" textLength="18.2" lengthAdjust="spacingAndGlyphs">+/+</text>
<text x="234.60" y="570.80" font-size="12" text-anchor="middle" fill="#a03543" color="#a03543" textLength="16.5" lengthAdjust="spacingAndGlyphs">fl/fl</text>
<line x1="73.20" y1="578.80" x2="160.90" y2="578.80" stroke="#222" stroke-width="1.4"/>
<text x="117.05" y="593.30" font-size="12" text-anchor="middle" fill="#1a1a1a" color="#1a1a1a" textLength="54.3" lengthAdjust="spacingAndGlyphs">Gp1ba-Cre</text>
<line x1="166.90" y1="578.80" x2="254.20" y2="578.80" stroke="#222" stroke-width="1.4"/>
<text x="210.55" y="593.30" font-size="12" text-anchor="middle" fill="#1a1a1a" color="#1a1a1a" textLength="37" lengthAdjust="spacingAndGlyphs">Pf4-Cre</text>
<text transform="translate(26.80,486.00) rotate(-90)" font-size="14.5" text-anchor="middle" fill="#1a1a1a" color="#1a1a1a" textLength="52.6" lengthAdjust="spacingAndGlyphs">GPVI MFI</text>
<rect x="328.50" y="471.60" width="30.80" height="79.50" fill="#4e6382" stroke="#3c5073" stroke-width="0.6"/>
<rect x="375.40" y="443.40" width="30.80" height="107.70" fill="#a03543" stroke="#8a2634" stroke-width="0.6"/>
<rect x="422.40" y="482.10" width="30.80" height="69.00" fill="#4e6382" stroke="#3c5073" stroke-width="0.6"/>
<rect x="469.30" y="456.60" width="30.80" height="94.50" fill="#a03543" stroke="#8a2634" stroke-width="0.6"/>
<line x1="343.90" y1="471.30" x2="343.90" y2="467.70" stroke="#1a1a1a" stroke-width="1.3"/>
<line x1="336.10" y1="467.70" x2="351.70" y2="467.70" stroke="#1a1a1a" stroke-width="1.3"/>
<line x1="390.80" y1="443.10" x2="390.80" y2="439.80" stroke="#1a1a1a" stroke-width="1.3"/>
<line x1="383.00" y1="439.80" x2="398.60" y2="439.80" stroke="#1a1a1a" stroke-width="1.3"/>
<line x1="437.80" y1="481.80" x2="437.80" y2="473.80" stroke="#1a1a1a" stroke-width="1.3"/>
<line x1="430.00" y1="473.80" x2="445.60" y2="473.80" stroke="#1a1a1a" stroke-width="1.3"/>
<line x1="484.70" y1="456.30" x2="484.70" y2="451.30" stroke="#1a1a1a" stroke-width="1.3"/>
<line x1="476.90" y1="451.30" x2="492.50" y2="451.30" stroke="#1a1a1a" stroke-width="1.3"/>
<circle cx="343.90" cy="465.00" r="3.05" fill="#fff" stroke="#000" stroke-width="1.15"/>
<circle cx="332.90" cy="472.40" r="3.05" fill="#fff" stroke="#000" stroke-width="1.15"/>
<circle cx="338.60" cy="472.80" r="3.05" fill="#fff" stroke="#000" stroke-width="1.15"/>
<circle cx="349.40" cy="474.50" r="3.05" fill="#fff" stroke="#000" stroke-width="1.15"/>
<circle cx="355.10" cy="472.40" r="3.05" fill="#fff" stroke="#000" stroke-width="1.15"/>
<circle cx="343.90" cy="478.30" r="3.05" fill="#fff" stroke="#000" stroke-width="1.15"/>
<circle cx="379.60" cy="440.50" r="3.05" fill="#fff" stroke="#000" stroke-width="1.15"/>
<circle cx="390.80" cy="438.20" r="3.05" fill="#fff" stroke="#000" stroke-width="1.15"/>
<circle cx="402.10" cy="441.90" r="3.05" fill="#fff" stroke="#000" stroke-width="1.15"/>
<circle cx="385.00" cy="445.10" r="3.05" fill="#fff" stroke="#000" stroke-width="1.15"/>
<circle cx="396.50" cy="445.10" r="3.05" fill="#fff" stroke="#000" stroke-width="1.15"/>
<circle cx="390.80" cy="449.10" r="3.05" fill="#fff" stroke="#000" stroke-width="1.15"/>
<circle cx="437.60" cy="469.30" r="3.05" fill="#fff" stroke="#000" stroke-width="1.15"/>
<circle cx="432.80" cy="475.10" r="3.05" fill="#fff" stroke="#000" stroke-width="1.15"/>
<circle cx="442.40" cy="478.00" r="3.05" fill="#fff" stroke="#000" stroke-width="1.15"/>
<circle cx="429.40" cy="480.90" r="3.05" fill="#fff" stroke="#000" stroke-width="1.15"/>
<circle cx="435.20" cy="481.50" r="3.05" fill="#fff" stroke="#000" stroke-width="1.15"/>
<circle cx="445.80" cy="481.50" r="3.05" fill="#fff" stroke="#000" stroke-width="1.15"/>
<circle cx="440.20" cy="483.80" r="3.05" fill="#fff" stroke="#000" stroke-width="1.15"/>
<circle cx="442.40" cy="488.60" r="3.05" fill="#fff" stroke="#000" stroke-width="1.15"/>
<circle cx="432.80" cy="496.30" r="3.05" fill="#fff" stroke="#000" stroke-width="1.15"/>
<circle cx="484.60" cy="448.10" r="3.05" fill="#fff" stroke="#000" stroke-width="1.15"/>
<circle cx="473.30" cy="453.60" r="3.05" fill="#fff" stroke="#000" stroke-width="1.15"/>
<circle cx="479.00" cy="457.50" r="3.05" fill="#fff" stroke="#000" stroke-width="1.15"/>
<circle cx="490.00" cy="458.60" r="3.05" fill="#fff" stroke="#000" stroke-width="1.15"/>
<circle cx="496.00" cy="457.50" r="3.05" fill="#fff" stroke="#000" stroke-width="1.15"/>
<circle cx="484.60" cy="462.60" r="3.05" fill="#fff" stroke="#000" stroke-width="1.15"/>
<line x1="320.70" y1="422.00" x2="320.70" y2="551.80" stroke="#000" stroke-width="1.5"/>
<line x1="315.90" y1="551.10" x2="509.00" y2="551.10" stroke="#000" stroke-width="1.5"/>
<line x1="315.90" y1="551.10" x2="320.70" y2="551.10" stroke="#000" stroke-width="1.4"/>
<text x="311.10" y="554.10" font-size="11.5" text-anchor="end" fill="#1a1a1a" color="#1a1a1a">0</text>
<line x1="315.90" y1="526.10" x2="320.70" y2="526.10" stroke="#000" stroke-width="1.4"/>
<text x="311.10" y="529.10" font-size="11.5" text-anchor="end" fill="#1a1a1a" color="#1a1a1a">250</text>
<line x1="315.90" y1="501.10" x2="320.70" y2="501.10" stroke="#000" stroke-width="1.4"/>
<text x="311.10" y="504.10" font-size="11.5" text-anchor="end" fill="#1a1a1a" color="#1a1a1a">500</text>
<line x1="315.90" y1="476.10" x2="320.70" y2="476.10" stroke="#000" stroke-width="1.4"/>
<text x="311.10" y="479.10" font-size="11.5" text-anchor="end" fill="#1a1a1a" color="#1a1a1a">750</text>
<line x1="315.90" y1="451.10" x2="320.70" y2="451.10" stroke="#000" stroke-width="1.4"/>
<text x="311.10" y="454.10" font-size="11.5" text-anchor="end" fill="#1a1a1a" color="#1a1a1a">1000</text>
<line x1="315.90" y1="426.10" x2="320.70" y2="426.10" stroke="#000" stroke-width="1.4"/>
<text x="311.10" y="429.10" font-size="11.5" text-anchor="end" fill="#1a1a1a" color="#1a1a1a">1250</text>
<line x1="343.90" y1="551.10" x2="343.90" y2="555.90" stroke="#000" stroke-width="1.3"/>
<line x1="390.80" y1="551.10" x2="390.80" y2="555.90" stroke="#000" stroke-width="1.3"/>
<line x1="437.80" y1="551.10" x2="437.80" y2="555.90" stroke="#000" stroke-width="1.3"/>
<line x1="484.70" y1="551.10" x2="484.70" y2="555.90" stroke="#000" stroke-width="1.3"/>
<path d="M385.85 423.45L385.85 427.55M384.07 424.48L387.63 426.52M387.63 424.48L384.07 426.52M390.80 423.45L390.80 427.55M389.02 424.48L392.58 426.52M392.58 424.48L389.02 426.52M395.75 423.45L395.75 427.55M393.97 424.48L397.53 426.52M397.53 424.48L393.97 426.52" stroke="#3a3a3a" stroke-width="1.05" stroke-linecap="round" fill="none"/>
<path d="M479.65 437.45L479.65 441.55M477.87 438.48L481.43 440.52M481.43 438.48L477.87 440.52M484.60 437.45L484.60 441.55M482.82 438.48L486.38 440.52M486.38 438.48L482.82 440.52M489.55 437.45L489.55 441.55M487.77 438.48L491.33 440.52M491.33 438.48L487.77 440.52" stroke="#3a3a3a" stroke-width="1.05" stroke-linecap="round" fill="none"/>
<text x="300.80" y="570.80" font-size="12" text-anchor="start" fill="#1a1a1a" color="#1a1a1a" textLength="20" lengthAdjust="spacingAndGlyphs">Csk:</text>
<text x="343.90" y="570.80" font-size="12" text-anchor="middle" fill="#4e6382" color="#4e6382" textLength="18.2" lengthAdjust="spacingAndGlyphs">+/+</text>
<text x="390.80" y="570.80" font-size="12" text-anchor="middle" fill="#a03543" color="#a03543" textLength="16.5" lengthAdjust="spacingAndGlyphs">fl/fl</text>
<text x="437.80" y="570.80" font-size="12" text-anchor="middle" fill="#4e6382" color="#4e6382" textLength="18.2" lengthAdjust="spacingAndGlyphs">+/+</text>
<text x="484.70" y="570.80" font-size="12" text-anchor="middle" fill="#a03543" color="#a03543" textLength="16.5" lengthAdjust="spacingAndGlyphs">fl/fl</text>
<line x1="323.30" y1="578.80" x2="410.20" y2="578.80" stroke="#222" stroke-width="1.4"/>
<text x="366.75" y="593.30" font-size="12" text-anchor="middle" fill="#1a1a1a" color="#1a1a1a" textLength="54.3" lengthAdjust="spacingAndGlyphs">Gp1ba-Cre</text>
<line x1="416.90" y1="578.80" x2="504.60" y2="578.80" stroke="#222" stroke-width="1.4"/>
<text x="460.75" y="593.30" font-size="12" text-anchor="middle" fill="#1a1a1a" color="#1a1a1a" textLength="37" lengthAdjust="spacingAndGlyphs">Pf4-Cre</text>
<text transform="translate(276.70,486.60) rotate(-90)" font-size="14.5" text-anchor="middle" fill="#1a1a1a" color="#1a1a1a" textLength="62.2" lengthAdjust="spacingAndGlyphs">G6b-B MFI</text>
<rect x="78.60" y="720.30" width="30.80" height="36.00" fill="#4e6382" stroke="#3c5073" stroke-width="0.6"/>
<rect x="125.80" y="721.10" width="30.80" height="35.20" fill="#a03543" stroke="#8a2634" stroke-width="0.6"/>
<rect x="172.60" y="726.30" width="30.80" height="30.00" fill="#4e6382" stroke="#3c5073" stroke-width="0.6"/>
<rect x="219.50" y="704.00" width="30.80" height="52.30" fill="#a03543" stroke="#8a2634" stroke-width="0.6"/>
<line x1="94.00" y1="720.00" x2="94.00" y2="708.30" stroke="#1a1a1a" stroke-width="1.3"/>
<line x1="86.20" y1="708.30" x2="101.80" y2="708.30" stroke="#1a1a1a" stroke-width="1.3"/>
<line x1="141.20" y1="720.80" x2="141.20" y2="714.20" stroke="#1a1a1a" stroke-width="1.3"/>
<line x1="133.40" y1="714.20" x2="149.00" y2="714.20" stroke="#1a1a1a" stroke-width="1.3"/>
<line x1="188.00" y1="726.00" x2="188.00" y2="722.50" stroke="#1a1a1a" stroke-width="1.3"/>
<line x1="180.20" y1="722.50" x2="195.80" y2="722.50" stroke="#1a1a1a" stroke-width="1.3"/>
<line x1="234.90" y1="703.70" x2="234.90" y2="680.00" stroke="#1a1a1a" stroke-width="1.3"/>
<line x1="227.10" y1="680.00" x2="242.70" y2="680.00" stroke="#1a1a1a" stroke-width="1.3"/>
<circle cx="89.20" cy="698.70" r="3.05" fill="#fff" stroke="#000" stroke-width="1.15"/>
<circle cx="103.70" cy="705.00" r="3.05" fill="#fff" stroke="#000" stroke-width="1.15"/>
<circle cx="98.80" cy="714.60" r="3.05" fill="#fff" stroke="#000" stroke-width="1.15"/>
<circle cx="89.20" cy="717.10" r="3.05" fill="#fff" stroke="#000" stroke-width="1.15"/>
<circle cx="81.90" cy="719.00" r="3.05" fill="#fff" stroke="#000" stroke-width="1.15"/>
<circle cx="89.80" cy="725.80" r="3.05" fill="#fff" stroke="#000" stroke-width="1.15"/>
<circle cx="98.30" cy="727.70" r="3.05" fill="#fff" stroke="#000" stroke-width="1.15"/>
<circle cx="106.00" cy="725.20" r="3.05" fill="#fff" stroke="#000" stroke-width="1.15"/>
<circle cx="98.80" cy="731.30" r="3.05" fill="#fff" stroke="#000" stroke-width="1.15"/>
<circle cx="89.20" cy="740.00" r="3.05" fill="#fff" stroke="#000" stroke-width="1.15"/>
<circle cx="141.20" cy="709.80" r="3.05" fill="#fff" stroke="#000" stroke-width="1.15"/>
<circle cx="130.00" cy="716.50" r="3.05" fill="#fff" stroke="#000" stroke-width="1.15"/>
<circle cx="135.40" cy="718.80" r="3.05" fill="#fff" stroke="#000" stroke-width="1.15"/>
<circle cx="146.50" cy="717.50" r="3.05" fill="#fff" stroke="#000" stroke-width="1.15"/>
<circle cx="152.30" cy="716.20" r="3.05" fill="#fff" stroke="#000" stroke-width="1.15"/>
<circle cx="141.20" cy="723.30" r="3.05" fill="#fff" stroke="#000" stroke-width="1.15"/>
<circle cx="131.20" cy="726.20" r="3.05" fill="#fff" stroke="#000" stroke-width="1.15"/>
<circle cx="150.80" cy="729.40" r="3.05" fill="#fff" stroke="#000" stroke-width="1.15"/>
<circle cx="141.20" cy="733.80" r="3.05" fill="#fff" stroke="#000" stroke-width="1.15"/>
<circle cx="178.30" cy="699.60" r="3.05" fill="#fff" stroke="#000" stroke-width="1.15"/>
<circle cx="192.70" cy="698.80" r="3.05" fill="#fff" stroke="#000" stroke-width="1.15"/>
<circle cx="179.40" cy="710.20" r="3.05" fill="#fff" stroke="#000" stroke-width="1.15"/>
<circle cx="183.10" cy="709.20" r="3.05" fill="#fff" stroke="#000" stroke-width="1.15"/>
<circle cx="185.20" cy="712.30" r="3.05" fill="#fff" stroke="#000" stroke-width="1.15"/>
<circle cx="192.90" cy="710.20" r="3.05" fill="#fff" stroke="#000" stroke-width="1.15"/>
<circle cx="196.30" cy="710.70" r="3.05" fill="#fff" stroke="#000" stroke-width="1.15"/>
<circle cx="190.50" cy="713.60" r="3.05" fill="#fff" stroke="#000" stroke-width="1.15"/>
<circle cx="180.40" cy="720.80" r="3.05" fill="#fff" stroke="#000" stroke-width="1.15"/>
<circle cx="183.30" cy="718.80" r="3.05" fill="#fff" stroke="#000" stroke-width="1.15"/>
<circle cx="193.40" cy="718.40" r="3.05" fill="#fff" stroke="#000" stroke-width="1.15"/>
<circle cx="196.30" cy="720.60" r="3.05" fill="#fff" stroke="#000" stroke-width="1.15"/>
<circle cx="185.20" cy="725.10" r="3.05" fill="#fff" stroke="#000" stroke-width="1.15"/>
<circle cx="190.50" cy="724.10" r="3.05" fill="#fff" stroke="#000" stroke-width="1.15"/>
<circle cx="177.00" cy="727.00" r="3.05" fill="#fff" stroke="#000" stroke-width="1.15"/>
<circle cx="179.90" cy="728.90" r="3.05" fill="#fff" stroke="#000" stroke-width="1.15"/>
<circle cx="192.90" cy="727.00" r="3.05" fill="#fff" stroke="#000" stroke-width="1.15"/>
<circle cx="199.10" cy="728.00" r="3.05" fill="#fff" stroke="#000" stroke-width="1.15"/>
<circle cx="186.20" cy="732.80" r="3.05" fill="#fff" stroke="#000" stroke-width="1.15"/>
<circle cx="192.40" cy="731.80" r="3.05" fill="#fff" stroke="#000" stroke-width="1.15"/>
<circle cx="196.70" cy="731.30" r="3.05" fill="#fff" stroke="#000" stroke-width="1.15"/>
<circle cx="177.50" cy="736.20" r="3.05" fill="#fff" stroke="#000" stroke-width="1.15"/>
<circle cx="179.90" cy="737.60" r="3.05" fill="#fff" stroke="#000" stroke-width="1.15"/>
<circle cx="184.70" cy="741.00" r="3.05" fill="#fff" stroke="#000" stroke-width="1.15"/>
<circle cx="189.00" cy="737.10" r="3.05" fill="#fff" stroke="#000" stroke-width="1.15"/>
<circle cx="192.90" cy="740.00" r="3.05" fill="#fff" stroke="#000" stroke-width="1.15"/>
<circle cx="195.80" cy="739.00" r="3.05" fill="#fff" stroke="#000" stroke-width="1.15"/>
<circle cx="198.50" cy="737.60" r="3.05" fill="#fff" stroke="#000" stroke-width="1.15"/>
<circle cx="188.10" cy="746.30" r="3.05" fill="#fff" stroke="#000" stroke-width="1.15"/>
<circle cx="234.80" cy="637.40" r="3.05" fill="#fff" stroke="#000" stroke-width="1.15"/>
<circle cx="234.80" cy="662.00" r="3.05" fill="#fff" stroke="#000" stroke-width="1.15"/>
<circle cx="234.80" cy="675.20" r="3.05" fill="#fff" stroke="#000" stroke-width="1.15"/>
<circle cx="220.40" cy="685.80" r="3.05" fill="#fff" stroke="#000" stroke-width="1.15"/>
<circle cx="225.30" cy="688.20" r="3.05" fill="#fff" stroke="#000" stroke-width="1.15"/>
<circle cx="234.80" cy="685.80" r="3.05" fill="#fff" stroke="#000" stroke-width="1.15"/>
<circle cx="249.10" cy="685.40" r="3.05" fill="#fff" stroke="#000" stroke-width="1.15"/>
<circle cx="244.20" cy="694.00" r="3.05" fill="#fff" stroke="#000" stroke-width="1.15"/>
<circle cx="229.90" cy="696.80" r="3.05" fill="#fff" stroke="#000" stroke-width="1.15"/>
<circle cx="235.40" cy="696.40" r="3.05" fill="#fff" stroke="#000" stroke-width="1.15"/>
<circle cx="244.50" cy="694.00" r="3.05" fill="#fff" stroke="#000" stroke-width="1.15"/>
<circle cx="240.00" cy="699.10" r="3.05" fill="#fff" stroke="#000" stroke-width="1.15"/>
<circle cx="227.20" cy="702.40" r="3.05" fill="#fff" stroke="#000" stroke-width="1.15"/>
<circle cx="233.00" cy="705.00" r="3.05" fill="#fff" stroke="#000" stroke-width="1.15"/>
<circle cx="238.10" cy="706.50" r="3.05" fill="#fff" stroke="#000" stroke-width="1.15"/>
<circle cx="243.20" cy="703.70" r="3.05" fill="#fff" stroke="#000" stroke-width="1.15"/>
<circle cx="239.60" cy="712.30" r="3.05" fill="#fff" stroke="#000" stroke-width="1.15"/>
<circle cx="225.30" cy="717.00" r="3.05" fill="#fff" stroke="#000" stroke-width="1.15"/>
<circle cx="229.90" cy="721.40" r="3.05" fill="#fff" stroke="#000" stroke-width="1.15"/>
<circle cx="226.20" cy="724.70" r="3.05" fill="#fff" stroke="#000" stroke-width="1.15"/>
<circle cx="232.60" cy="725.60" r="3.05" fill="#fff" stroke="#000" stroke-width="1.15"/>
<circle cx="239.60" cy="724.70" r="3.05" fill="#fff" stroke="#000" stroke-width="1.15"/>
<circle cx="243.20" cy="724.70" r="3.05" fill="#fff" stroke="#000" stroke-width="1.15"/>
<circle cx="225.30" cy="729.30" r="3.05" fill="#fff" stroke="#000" stroke-width="1.15"/>
<circle cx="244.50" cy="733.90" r="3.05" fill="#fff" stroke="#000" stroke-width="1.15"/>
<circle cx="234.80" cy="737.90" r="3.05" fill="#fff" stroke="#000" stroke-width="1.15"/>
<line x1="70.80" y1="626.70" x2="70.80" y2="757.00" stroke="#000" stroke-width="1.5"/>
<line x1="66.00" y1="756.30" x2="259.00" y2="756.30" stroke="#000" stroke-width="1.5"/>
<line x1="66.00" y1="756.30" x2="70.80" y2="756.30" stroke="#000" stroke-width="1.4"/>
<text x="61.20" y="759.30" font-size="11.5" text-anchor="end" fill="#1a1a1a" color="#1a1a1a">0</text>
<line x1="66.00" y1="725.04" x2="70.80" y2="725.04" stroke="#000" stroke-width="1.4"/>
<text x="61.20" y="728.04" font-size="11.5" text-anchor="end" fill="#1a1a1a" color="#1a1a1a">5</text>
<line x1="66.00" y1="693.77" x2="70.80" y2="693.77" stroke="#000" stroke-width="1.4"/>
<text x="61.20" y="696.77" font-size="11.5" text-anchor="end" fill="#1a1a1a" color="#1a1a1a">10</text>
<line x1="66.00" y1="662.51" x2="70.80" y2="662.51" stroke="#000" stroke-width="1.4"/>
<text x="61.20" y="665.51" font-size="11.5" text-anchor="end" fill="#1a1a1a" color="#1a1a1a">15</text>
<line x1="66.00" y1="631.25" x2="70.80" y2="631.25" stroke="#000" stroke-width="1.4"/>
<text x="61.20" y="634.25" font-size="11.5" text-anchor="end" fill="#1a1a1a" color="#1a1a1a">20</text>
<line x1="94.00" y1="756.30" x2="94.00" y2="761.10" stroke="#000" stroke-width="1.3"/>
<line x1="141.20" y1="756.30" x2="141.20" y2="761.10" stroke="#000" stroke-width="1.3"/>
<line x1="188.00" y1="756.30" x2="188.00" y2="761.10" stroke="#000" stroke-width="1.3"/>
<line x1="234.90" y1="756.30" x2="234.90" y2="761.10" stroke="#000" stroke-width="1.3"/>
<path d="M229.85 627.95L229.85 632.05M228.07 628.98L231.63 631.02M231.63 628.98L228.07 631.02M234.80 627.95L234.80 632.05M233.02 628.98L236.58 631.02M236.58 628.98L233.02 631.02M239.75 627.95L239.75 632.05M237.97 628.98L241.53 631.02M241.53 628.98L237.97 631.02" stroke="#3a3a3a" stroke-width="1.05" stroke-linecap="round" fill="none"/>
<text x="50.60" y="775.80" font-size="12" text-anchor="start" fill="#1a1a1a" color="#1a1a1a" textLength="20" lengthAdjust="spacingAndGlyphs">Csk:</text>
<text x="94.00" y="775.80" font-size="12" text-anchor="middle" fill="#4e6382" color="#4e6382" textLength="18.2" lengthAdjust="spacingAndGlyphs">+/+</text>
<text x="141.20" y="775.80" font-size="12" text-anchor="middle" fill="#a03543" color="#a03543" textLength="16.5" lengthAdjust="spacingAndGlyphs">fl/fl</text>
<text x="188.00" y="775.80" font-size="12" text-anchor="middle" fill="#4e6382" color="#4e6382" textLength="18.2" lengthAdjust="spacingAndGlyphs">+/+</text>
<text x="234.90" y="775.80" font-size="12" text-anchor="middle" fill="#a03543" color="#a03543" textLength="16.5" lengthAdjust="spacingAndGlyphs">fl/fl</text>
<line x1="73.20" y1="783.80" x2="160.90" y2="783.80" stroke="#222" stroke-width="1.4"/>
<text x="117.05" y="798.50" font-size="12" text-anchor="middle" fill="#1a1a1a" color="#1a1a1a" textLength="54.3" lengthAdjust="spacingAndGlyphs">Gp1ba-Cre</text>
<line x1="166.90" y1="783.80" x2="254.20" y2="783.80" stroke="#222" stroke-width="1.4"/>
<text x="210.55" y="798.50" font-size="12" text-anchor="middle" fill="#1a1a1a" color="#1a1a1a" textLength="37" lengthAdjust="spacingAndGlyphs">Pf4-Cre</text>
<text transform="translate(39.30,692.20) rotate(-90)" font-size="14.5" text-anchor="middle" fill="#1a1a1a" color="#1a1a1a" textLength="152.0" lengthAdjust="spacingAndGlyphs">White blood cells (10<tspan font-size="10" dy="-5.5">3</tspan><tspan dy="5.5">/µl)</tspan></text>
<rect x="328.60" y="724.90" width="30.80" height="31.40" fill="#4e6382" stroke="#3c5073" stroke-width="0.6"/>
<rect x="375.60" y="725.30" width="30.80" height="31.00" fill="#a03543" stroke="#8a2634" stroke-width="0.6"/>
<rect x="422.40" y="731.80" width="30.80" height="24.50" fill="#4e6382" stroke="#3c5073" stroke-width="0.6"/>
<rect x="469.30" y="713.60" width="30.80" height="42.70" fill="#a03543" stroke="#8a2634" stroke-width="0.6"/>
<line x1="344.00" y1="724.60" x2="344.00" y2="714.40" stroke="#1a1a1a" stroke-width="1.3"/>
<line x1="336.20" y1="714.40" x2="351.80" y2="714.40" stroke="#1a1a1a" stroke-width="1.3"/>
<line x1="391.00" y1="725.00" x2="391.00" y2="718.50" stroke="#1a1a1a" stroke-width="1.3"/>
<line x1="383.20" y1="718.50" x2="398.80" y2="718.50" stroke="#1a1a1a" stroke-width="1.3"/>
<line x1="437.80" y1="731.50" x2="437.80" y2="728.00" stroke="#1a1a1a" stroke-width="1.3"/>
<line x1="430.00" y1="728.00" x2="445.60" y2="728.00" stroke="#1a1a1a" stroke-width="1.3"/>
<line x1="484.70" y1="713.30" x2="484.70" y2="692.10" stroke="#1a1a1a" stroke-width="1.3"/>
<line x1="476.90" y1="692.10" x2="492.50" y2="692.10" stroke="#1a1a1a" stroke-width="1.3"/>
<circle cx="344.00" cy="705.40" r="3.05" fill="#fff" stroke="#000" stroke-width="1.15"/>
<circle cx="348.80" cy="713.50" r="3.05" fill="#fff" stroke="#000" stroke-width="1.15"/>
<circle cx="332.50" cy="722.10" r="3.05" fill="#fff" stroke="#000" stroke-width="1.15"/>
<circle cx="339.20" cy="720.20" r="3.05" fill="#fff" stroke="#000" stroke-width="1.15"/>
<circle cx="355.20" cy="722.10" r="3.05" fill="#fff" stroke="#000" stroke-width="1.15"/>
<circle cx="338.70" cy="729.80" r="3.05" fill="#fff" stroke="#000" stroke-width="1.15"/>
<circle cx="344.40" cy="730.80" r="3.05" fill="#fff" stroke="#000" stroke-width="1.15"/>
<circle cx="349.80" cy="727.90" r="3.05" fill="#fff" stroke="#000" stroke-width="1.15"/>
<circle cx="348.80" cy="735.60" r="3.05" fill="#fff" stroke="#000" stroke-width="1.15"/>
<circle cx="339.20" cy="741.30" r="3.05" fill="#fff" stroke="#000" stroke-width="1.15"/>
<circle cx="380.00" cy="720.20" r="3.05" fill="#fff" stroke="#000" stroke-width="1.15"/>
<circle cx="385.40" cy="721.70" r="3.05" fill="#fff" stroke="#000" stroke-width="1.15"/>
<circle cx="390.80" cy="723.10" r="3.05" fill="#fff" stroke="#000" stroke-width="1.15"/>
<circle cx="396.50" cy="720.20" r="3.05" fill="#fff" stroke="#000" stroke-width="1.15"/>
<circle cx="402.30" cy="715.00" r="3.05" fill="#fff" stroke="#000" stroke-width="1.15"/>
<circle cx="379.20" cy="729.40" r="3.05" fill="#fff" stroke="#000" stroke-width="1.15"/>
<circle cx="395.00" cy="731.70" r="3.05" fill="#fff" stroke="#000" stroke-width="1.15"/>
<circle cx="402.70" cy="727.50" r="3.05" fill="#fff" stroke="#000" stroke-width="1.15"/>
<circle cx="386.70" cy="736.20" r="3.05" fill="#fff" stroke="#000" stroke-width="1.15"/>
<circle cx="433.30" cy="708.10" r="3.05" fill="#fff" stroke="#000" stroke-width="1.15"/>
<circle cx="426.50" cy="716.20" r="3.05" fill="#fff" stroke="#000" stroke-width="1.15"/>
<circle cx="442.50" cy="714.60" r="3.05" fill="#fff" stroke="#000" stroke-width="1.15"/>
<circle cx="449.20" cy="719.00" r="3.05" fill="#fff" stroke="#000" stroke-width="1.15"/>
<circle cx="430.40" cy="719.00" r="3.05" fill="#fff" stroke="#000" stroke-width="1.15"/>
<circle cx="437.70" cy="724.80" r="3.05" fill="#fff" stroke="#000" stroke-width="1.15"/>
<circle cx="444.80" cy="722.00" r="3.05" fill="#fff" stroke="#000" stroke-width="1.15"/>
<circle cx="433.30" cy="728.10" r="3.05" fill="#fff" stroke="#000" stroke-width="1.15"/>
<circle cx="426.20" cy="730.60" r="3.05" fill="#fff" stroke="#000" stroke-width="1.15"/>
<circle cx="449.60" cy="731.20" r="3.05" fill="#fff" stroke="#000" stroke-width="1.15"/>
<circle cx="438.10" cy="729.60" r="3.05" fill="#fff" stroke="#000" stroke-width="1.15"/>
<circle cx="443.50" cy="733.10" r="3.05" fill="#fff" stroke="#000" stroke-width="1.15"/>
<circle cx="436.70" cy="735.00" r="3.05" fill="#fff" stroke="#000" stroke-width="1.15"/>
<circle cx="426.20" cy="738.80" r="3.05" fill="#fff" stroke="#000" stroke-width="1.15"/>
<circle cx="431.30" cy="742.10" r="3.05" fill="#fff" stroke="#000" stroke-width="1.15"/>
<circle cx="442.30" cy="737.70" r="3.05" fill="#fff" stroke="#000" stroke-width="1.15"/>
<circle cx="447.30" cy="738.30" r="3.05" fill="#fff" stroke="#000" stroke-width="1.15"/>
<circle cx="449.60" cy="739.20" r="3.05" fill="#fff" stroke="#000" stroke-width="1.15"/>
<circle cx="439.00" cy="743.10" r="3.05" fill="#fff" stroke="#000" stroke-width="1.15"/>
<circle cx="445.80" cy="741.50" r="3.05" fill="#fff" stroke="#000" stroke-width="1.15"/>
<circle cx="436.50" cy="746.90" r="3.05" fill="#fff" stroke="#000" stroke-width="1.15"/>
<circle cx="429.40" cy="731.50" r="3.05" fill="#fff" stroke="#000" stroke-width="1.15"/>
<circle cx="434.20" cy="739.20" r="3.05" fill="#fff" stroke="#000" stroke-width="1.15"/>
<circle cx="484.80" cy="653.30" r="3.05" fill="#fff" stroke="#000" stroke-width="1.15"/>
<circle cx="484.80" cy="672.30" r="3.05" fill="#fff" stroke="#000" stroke-width="1.15"/>
<circle cx="484.80" cy="688.30" r="3.05" fill="#fff" stroke="#000" stroke-width="1.15"/>
<circle cx="475.20" cy="698.50" r="3.05" fill="#fff" stroke="#000" stroke-width="1.15"/>
<circle cx="484.80" cy="699.80" r="3.05" fill="#fff" stroke="#000" stroke-width="1.15"/>
<circle cx="494.40" cy="698.50" r="3.05" fill="#fff" stroke="#000" stroke-width="1.15"/>
<circle cx="480.40" cy="704.00" r="3.05" fill="#fff" stroke="#000" stroke-width="1.15"/>
<circle cx="490.00" cy="704.60" r="3.05" fill="#fff" stroke="#000" stroke-width="1.15"/>
<circle cx="496.30" cy="703.30" r="3.05" fill="#fff" stroke="#000" stroke-width="1.15"/>
<circle cx="473.30" cy="711.00" r="3.05" fill="#fff" stroke="#000" stroke-width="1.15"/>
<circle cx="476.50" cy="708.50" r="3.05" fill="#fff" stroke="#000" stroke-width="1.15"/>
<circle cx="484.80" cy="709.40" r="3.05" fill="#fff" stroke="#000" stroke-width="1.15"/>
<circle cx="479.40" cy="714.20" r="3.05" fill="#fff" stroke="#000" stroke-width="1.15"/>
<circle cx="490.00" cy="715.20" r="3.05" fill="#fff" stroke="#000" stroke-width="1.15"/>
<circle cx="495.80" cy="713.80" r="3.05" fill="#fff" stroke="#000" stroke-width="1.15"/>
<circle cx="484.80" cy="720.00" r="3.05" fill="#fff" stroke="#000" stroke-width="1.15"/>
<circle cx="475.20" cy="727.30" r="3.05" fill="#fff" stroke="#000" stroke-width="1.15"/>
<circle cx="494.40" cy="724.80" r="3.05" fill="#fff" stroke="#000" stroke-width="1.15"/>
<circle cx="473.30" cy="732.10" r="3.05" fill="#fff" stroke="#000" stroke-width="1.15"/>
<circle cx="477.50" cy="734.00" r="3.05" fill="#fff" stroke="#000" stroke-width="1.15"/>
<circle cx="484.80" cy="730.20" r="3.05" fill="#fff" stroke="#000" stroke-width="1.15"/>
<circle cx="495.80" cy="731.20" r="3.05" fill="#fff" stroke="#000" stroke-width="1.15"/>
<circle cx="491.90" cy="734.40" r="3.05" fill="#fff" stroke="#000" stroke-width="1.15"/>
<circle cx="482.00" cy="738.80" r="3.05" fill="#fff" stroke="#000" stroke-width="1.15"/>
<circle cx="484.80" cy="740.80" r="3.05" fill="#fff" stroke="#000" stroke-width="1.15"/>
<circle cx="489.00" cy="740.20" r="3.05" fill="#fff" stroke="#000" stroke-width="1.15"/>
<line x1="320.60" y1="626.70" x2="320.60" y2="757.00" stroke="#000" stroke-width="1.5"/>
<line x1="315.80" y1="756.30" x2="509.20" y2="756.30" stroke="#000" stroke-width="1.5"/>
<line x1="315.80" y1="756.30" x2="320.60" y2="756.30" stroke="#000" stroke-width="1.4"/>
<text x="311.00" y="759.30" font-size="11.5" text-anchor="end" fill="#1a1a1a" color="#1a1a1a">0</text>
<line x1="315.80" y1="725.04" x2="320.60" y2="725.04" stroke="#000" stroke-width="1.4"/>
<text x="311.00" y="728.04" font-size="11.5" text-anchor="end" fill="#1a1a1a" color="#1a1a1a">5</text>
<line x1="315.80" y1="693.77" x2="320.60" y2="693.77" stroke="#000" stroke-width="1.4"/>
<text x="311.00" y="696.77" font-size="11.5" text-anchor="end" fill="#1a1a1a" color="#1a1a1a">10</text>
<line x1="315.80" y1="662.51" x2="320.60" y2="662.51" stroke="#000" stroke-width="1.4"/>
<text x="311.00" y="665.51" font-size="11.5" text-anchor="end" fill="#1a1a1a" color="#1a1a1a">15</text>
<line x1="315.80" y1="631.25" x2="320.60" y2="631.25" stroke="#000" stroke-width="1.4"/>
<text x="311.00" y="634.25" font-size="11.5" text-anchor="end" fill="#1a1a1a" color="#1a1a1a">20</text>
<line x1="344.00" y1="756.30" x2="344.00" y2="761.10" stroke="#000" stroke-width="1.3"/>
<line x1="391.00" y1="756.30" x2="391.00" y2="761.10" stroke="#000" stroke-width="1.3"/>
<line x1="437.80" y1="756.30" x2="437.80" y2="761.10" stroke="#000" stroke-width="1.3"/>
<line x1="484.70" y1="756.30" x2="484.70" y2="761.10" stroke="#000" stroke-width="1.3"/>
<path d="M479.85 637.55L479.85 641.65M478.07 638.58L481.63 640.62M481.63 638.58L478.07 640.62M484.80 637.55L484.80 641.65M483.02 638.58L486.58 640.62M486.58 638.58L483.02 640.62M489.75 637.55L489.75 641.65M487.97 638.58L491.53 640.62M491.53 638.58L487.97 640.62" stroke="#3a3a3a" stroke-width="1.05" stroke-linecap="round" fill="none"/>
<text x="300.80" y="775.60" font-size="12" text-anchor="start" fill="#1a1a1a" color="#1a1a1a" textLength="20" lengthAdjust="spacingAndGlyphs">Csk:</text>
<text x="344.00" y="775.60" font-size="12" text-anchor="middle" fill="#4e6382" color="#4e6382" textLength="18.2" lengthAdjust="spacingAndGlyphs">+/+</text>
<text x="391.00" y="775.60" font-size="12" text-anchor="middle" fill="#a03543" color="#a03543" textLength="16.5" lengthAdjust="spacingAndGlyphs">fl/fl</text>
<text x="437.80" y="775.60" font-size="12" text-anchor="middle" fill="#4e6382" color="#4e6382" textLength="18.2" lengthAdjust="spacingAndGlyphs">+/+</text>
<text x="484.70" y="775.60" font-size="12" text-anchor="middle" fill="#a03543" color="#a03543" textLength="16.5" lengthAdjust="spacingAndGlyphs">fl/fl</text>
<line x1="323.30" y1="783.80" x2="410.20" y2="783.80" stroke="#222" stroke-width="1.4"/>
<text x="366.75" y="798.50" font-size="12" text-anchor="middle" fill="#1a1a1a" color="#1a1a1a" textLength="54.3" lengthAdjust="spacingAndGlyphs">Gp1ba-Cre</text>
<line x1="416.90" y1="783.80" x2="504.60" y2="783.80" stroke="#222" stroke-width="1.4"/>
<text x="460.75" y="798.50" font-size="12" text-anchor="middle" fill="#1a1a1a" color="#1a1a1a" textLength="37" lengthAdjust="spacingAndGlyphs">Pf4-Cre</text>
<text transform="translate(289.00,691.50) rotate(-90)" font-size="14.5" text-anchor="middle" fill="#1a1a1a" color="#1a1a1a" textLength="127.7" lengthAdjust="spacingAndGlyphs">Lymphocytes (10<tspan font-size="10" dy="-5.5">3</tspan><tspan dy="5.5">/µl)</tspan></text>
</svg>
</body></html>
